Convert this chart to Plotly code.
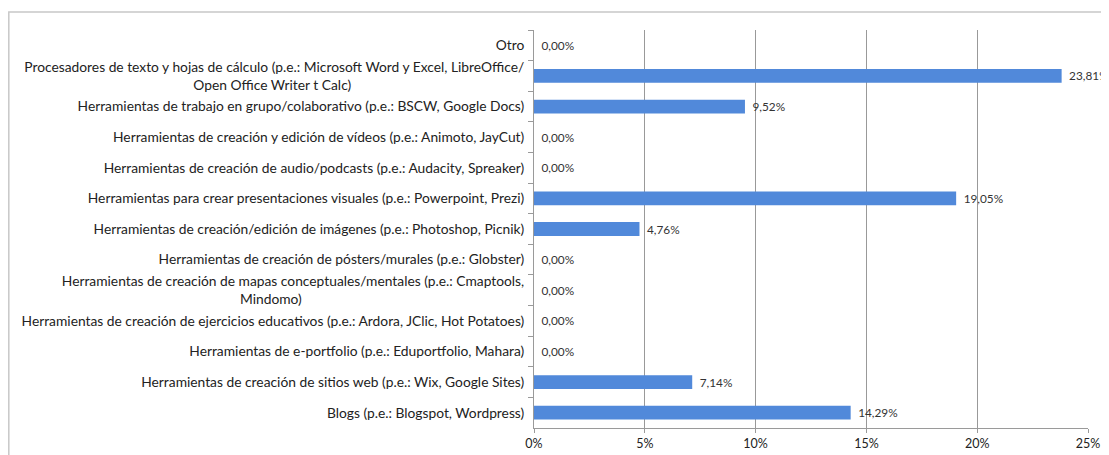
import plotly.graph_objects as go

NBSP = "\u00a0"
ZWSP = "\u200b"  # keeps the trailing padding from being trimmed

# trailing padding roughly centres the second line of the wrapped labels
categories = [
    "Otro",
    "Procesadores de texto y hojas de cálculo (p.e.: Microsoft Word y Excel, LibreOffice/<br>Open Office Writer t Calc)" + NBSP * 49 + ZWSP,
    "Herramientas de trabajo en grupo/colaborativo (p.e.: BSCW, Google Docs)",
    "Herramientas de creación y edición de vídeos (p.e.: Animoto, JayCut)",
    "Herramientas de creación de audio/podcasts (p.e.: Audacity, Spreaker)",
    "Herramientas para crear presentaciones visuales (p.e.: Powerpoint, Prezi)",
    "Herramientas de creación/edición de imágenes (p.e.: Photoshop, Picnik)",
    "Herramientas de creación de pósters/murales (p.e.: Globster)",
    "Herramientas de creación de mapas conceptuales/mentales (p.e.: Cmaptools,<br>Mindomo)" + NBSP * 63 + ZWSP,
    "Herramientas de creación de ejercicios educativos (p.e.: Ardora, JClic, Hot Potatoes)",
    "Herramientas de e-portfolio (p.e.: Eduportfolio, Mahara)",
    "Herramientas de creación de sitios web (p.e.: Wix, Google Sites)",
    "Blogs (p.e.: Blogspot, Wordpress)",
]
percentages = [0.00, 23.81, 9.52, 0.00, 0.00, 19.05, 4.76, 0.00, 0.00, 0.00, 0.00, 7.14, 14.29]
x_ticks = [0, 5, 10, 15, 20, 25]
x_tick_labels = ["0%", "5%", "10%", "15%", "20%", "25%"]

FONT = "Lato"

# spanish decimal comma for the value labels, small gap after the bar end
labels = [NBSP + "\u2009" + f"{v:.2f}%".replace(".", ",") for v in percentages]

fig = go.Figure(go.Bar(
    x=percentages,
    y=categories,
    orientation="h",
    text=labels,
    textposition="outside",
    constraintext="none",
    cliponaxis=False,
    textfont=dict(family=FONT, size=11.8, color="#333333"),
    marker=dict(color="#5189da", line=dict(width=0)),
    width=0.45,
))

# page body has an 8px margin, so the figure is 8px smaller than the window
fig.update_layout(
    width=1101,
    height=447,
    paper_bgcolor="white",
    plot_bgcolor="white",
    margin=dict(l=526, r=21, t=22, b=27, autoexpand=False),
    showlegend=False,
    font=dict(family=FONT, size=13.8, color="#222222"),
    xaxis=dict(
        range=[0, 25],
        tickvals=x_ticks,
        ticktext=x_tick_labels,
        showgrid=True,
        gridcolor="#999999",
        gridwidth=1,
        showline=True,
        linecolor="#9a9a9a",
        ticks="outside",
        ticklen=4,
        tickcolor="#9a9a9a",
        zeroline=False,
        automargin=False,
        tickfont=dict(family=FONT, size=12.5),
    ),
    yaxis=dict(
        autorange="reversed",
        showline=True,
        linecolor="#9a9a9a",
        ticks="outside",
        tickson="boundaries",
        ticklen=5,
        tickcolor="#9a9a9a",
        ticklabelstandoff=6,
        automargin=False,
        tickfont=dict(family=FONT, size=13.8),
    ),
    shapes=[dict(
        type="rect", xref="paper", yref="paper",
        x0=-0.948, x1=1.1, y0=-0.2, y1=1.045,
        line=dict(color="#c8c8c8", width=1.5),
        fillcolor="rgba(0,0,0,0)", layer="below",
    )],
)

fig.write_html("out.html")
